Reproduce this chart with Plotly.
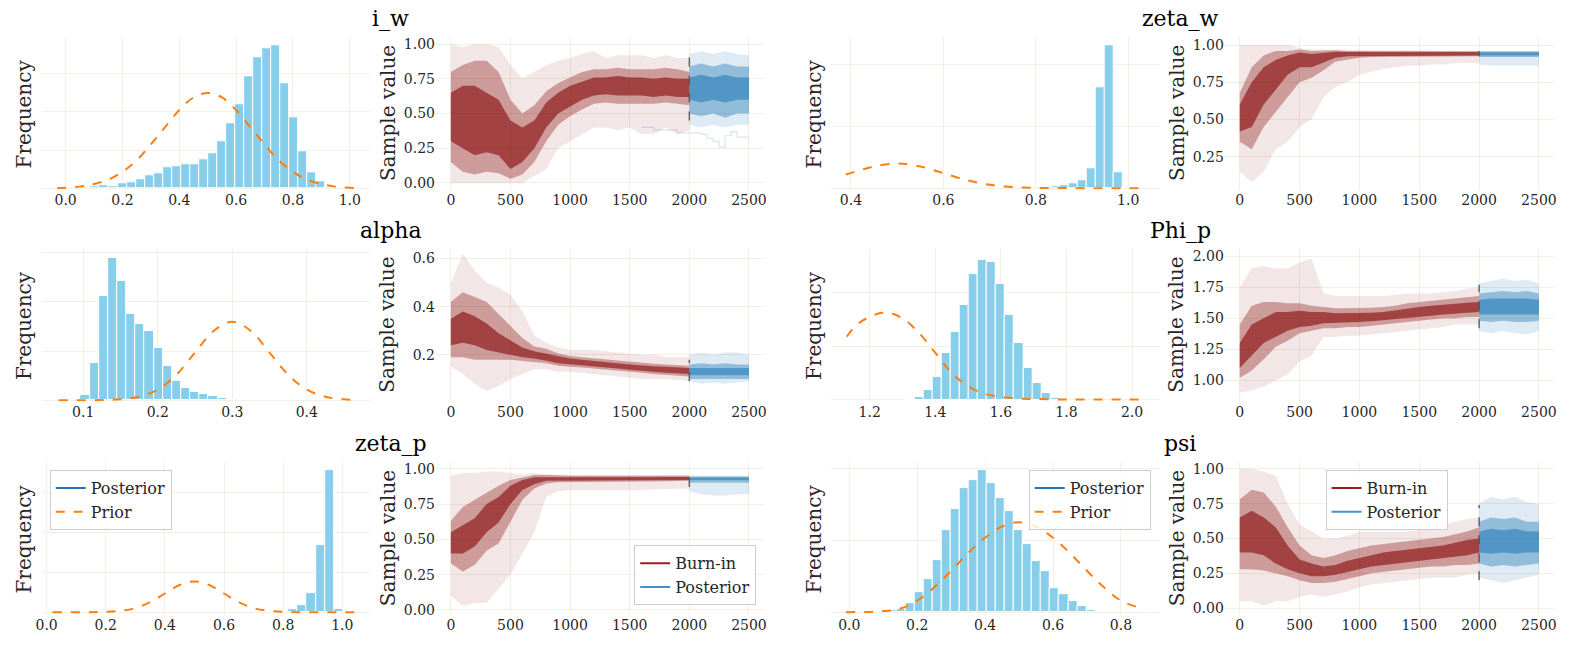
import plotly.graph_objects as go

W, H = 1572, 645
FONT = "DejaVu Serif"
GRID = "#f2efe3"
TXT = "#262626"

# ---------------- histogram data (posterior, density) ----------------
iw_bin_start, iw_bin_width = 0.056, 0.0318
iw_hist = [0.03, 0.06, 0.08, 0.06, 0.12, 0.16, 0.24, 0.35, 0.39, 0.55, 0.57, 0.63, 0.63, 0.76,
           0.92, 1.22, 1.70, 2.21, 2.94, 3.43, 3.68, 3.74, 2.76, 1.85, 0.97, 0.42, 0.17]
iw_prior_x = [-0.03, 0.05, 0.1, 0.15, 0.2, 0.25, 0.3, 0.35, 0.4, 0.45, 0.5, 0.55, 0.6, 0.65,
              0.7, 0.75, 0.8, 0.85, 0.9, 0.95, 1.02]
iw_prior_y = [0.0, 0.04, 0.11, 0.22, 0.43, 0.73, 1.15, 1.6, 2.05, 2.38, 2.5, 2.38, 2.05, 1.6,
              1.15, 0.73, 0.43, 0.22, 0.11, 0.04, 0.0]

zw_bin_start, zw_bin_width = 0.795, 0.0193
zw_hist = [0.1, 0.1, 0.27, 0.43, 0.86, 1.24, 3.2, 16.3, 23.1, 2.6]
zw_prior_x = [0.389, 0.42, 0.45, 0.5, 0.55, 0.6, 0.65, 0.7, 0.75, 0.8, 0.85, 0.9, 0.95, 1.036]
zw_prior_y = [2.2, 2.9, 3.5, 3.99, 3.5, 2.42, 1.3, 0.54, 0.18, 0.04, 0.01, 0.0, 0.0, 0.0]

al_bin_start, al_bin_width = 0.0964, 0.01227
al_hist = [0.57, 3.8, 10.6, 14.5, 12.1, 8.75, 7.8, 7.05, 5.3, 3.45, 1.95, 1.25, 0.85, 0.6,
           0.4, 0.23, 0.1]
al_prior_x = [0.067, 0.1, 0.125, 0.15, 0.175, 0.2, 0.225, 0.25, 0.275, 0.3, 0.325, 0.35, 0.375,
              0.4, 0.425, 0.45, 0.469]
al_prior_y = [0.0, 0.0, 0.02, 0.09, 0.35, 1.08, 2.59, 4.84, 7.04, 7.98, 7.04, 4.84, 2.59,
              1.08, 0.35, 0.09, 0.02]

ph_bin_start, ph_bin_width = 1.308, 0.0277
ph_hist = [0.02, 0.11, 0.35, 0.84, 1.74, 2.53, 3.55, 4.70, 5.25, 5.17, 4.35, 3.17, 2.14, 1.20,
           0.62, 0.26, 0.07]
ph_prior_x = [1.13, 1.16, 1.2, 1.25, 1.3, 1.35, 1.4, 1.45, 1.5, 1.55, 1.6, 1.65, 1.7, 1.8, 2.04]
ph_prior_y = [2.36, 2.8, 3.1, 3.27, 3.05, 2.5, 1.75, 1.0, 0.5, 0.22, 0.1, 0.04, 0.02, 0.0, 0.0]

zp_bin_start, zp_bin_width = 0.7545, 0.0311
zp_hist = [0.08, 0.125, 0.375, 0.92, 2.42, 8.42, 17.83, 0.33]
zp_prior_x = [0.02, 0.15, 0.2, 0.25, 0.3, 0.35, 0.4, 0.45, 0.5, 0.55, 0.6, 0.65, 0.7, 0.75,
              0.8, 0.85, 1.05]
zp_prior_y = [0.0, 0.0, 0.04, 0.17, 0.52, 1.26, 2.35, 3.42, 3.875, 3.42, 2.35, 1.26, 0.52,
              0.17, 0.04, 0.0, 0.0]

ps_bin_start, ps_bin_width = 0.1122, 0.02663
ps_hist = [0.05, 0.09, 0.25, 0.56, 0.92, 1.45, 2.28, 2.87, 3.44, 3.68, 3.96, 3.58, 3.18, 2.81,
           2.28, 1.89, 1.41, 1.14, 0.67, 0.49, 0.30, 0.16, 0.06, 0.03]
ps_prior_x = [-0.01, 0.1, 0.15, 0.2, 0.25, 0.3, 0.35, 0.4, 0.45, 0.5, 0.55, 0.6, 0.65, 0.7,
              0.75, 0.8, 0.87]
ps_prior_y = [0.0, 0.03, 0.1, 0.32, 0.69, 1.15, 1.64, 2.07, 2.38, 2.5, 2.38, 2.07, 1.64, 1.15,
              0.69, 0.32, 0.08]

# ---------------- trace-plot envelopes (outer / middle / dense) ----------------
burn_iters = [0, 100, 200, 300, 400, 500, 600, 700, 800, 900, 1000, 1100, 1200, 1300, 1400,
              1500, 1600, 1700, 1800, 1900, 2000]
post_iters = [2000, 2100, 2200, 2300, 2400, 2500]

iw_out_lo = [0.00, 0.00, 0.00, 0.00, 0.00, 0.00, 0.00, 0.05, 0.10, 0.25, 0.30, 0.35, 0.40, 0.40, 0.38, 0.40, 0.35, 0.35, 0.40, 0.35, 0.38]
iw_out_hi = [1.00, 0.98, 1.00, 1.00, 0.98, 0.85, 0.75, 0.80, 0.85, 0.88, 0.90, 0.93, 0.95, 0.90, 0.92, 0.92, 0.92, 0.90, 0.92, 0.90, 0.90]
iw_mid_lo = [0.15, 0.08, 0.06, 0.08, 0.07, 0.03, 0.06, 0.15, 0.30, 0.42, 0.48, 0.53, 0.57, 0.58, 0.57, 0.57, 0.57, 0.57, 0.58, 0.57, 0.56]
iw_mid_hi = [0.80, 0.85, 0.88, 0.88, 0.80, 0.60, 0.50, 0.56, 0.66, 0.72, 0.76, 0.80, 0.82, 0.82, 0.83, 0.82, 0.82, 0.82, 0.83, 0.82, 0.80]
iw_core_lo = [0.30, 0.25, 0.20, 0.22, 0.20, 0.10, 0.15, 0.25, 0.40, 0.50, 0.55, 0.60, 0.63, 0.64, 0.63, 0.63, 0.63, 0.62, 0.63, 0.62, 0.62]
iw_core_hi = [0.65, 0.70, 0.70, 0.65, 0.60, 0.45, 0.40, 0.45, 0.58, 0.65, 0.70, 0.73, 0.76, 0.76, 0.77, 0.76, 0.76, 0.75, 0.76, 0.75, 0.75]
iw_post_out_lo = [0.42, 0.40, 0.42, 0.40, 0.42, 0.42]
iw_post_out_hi = [0.93, 0.95, 0.93, 0.95, 0.93, 0.92]
iw_post_mid_lo = [0.50, 0.48, 0.50, 0.47, 0.50, 0.50]
iw_post_mid_hi = [0.84, 0.86, 0.84, 0.86, 0.84, 0.84]
iw_post_core_lo = [0.60, 0.58, 0.60, 0.58, 0.60, 0.60]
iw_post_core_hi = [0.76, 0.78, 0.76, 0.78, 0.76, 0.76]

zw_out_lo = [0.15, 0.08, 0.15, 0.30, 0.35, 0.45, 0.50, 0.65, 0.72, 0.75, 0.80, 0.82, 0.84, 0.85, 0.86, 0.86, 0.87, 0.87, 0.88, 0.88, 0.88]
zw_out_hi = [1.00, 1.00, 1.00, 1.00, 1.00, 0.98, 0.97, 0.97, 0.97, 0.97, 0.97, 0.97, 0.965, 0.965, 0.965, 0.965, 0.965, 0.96, 0.96, 0.96, 0.96]
zw_mid_lo = [0.35, 0.30, 0.45, 0.55, 0.65, 0.75, 0.78, 0.83, 0.89, 0.905, 0.915, 0.92, 0.92, 0.92, 0.92, 0.92, 0.92, 0.923, 0.925, 0.925, 0.925]
zw_mid_hi = [0.68, 0.85, 0.93, 0.96, 0.96, 0.97, 0.96, 0.965, 0.965, 0.96, 0.96, 0.958, 0.958, 0.958, 0.958, 0.958, 0.958, 0.958, 0.958, 0.958, 0.958]
zw_core_lo = [0.42, 0.45, 0.60, 0.70, 0.80, 0.85, 0.85, 0.88, 0.915, 0.925, 0.927, 0.928, 0.928, 0.928, 0.929, 0.929, 0.929, 0.93, 0.93, 0.93, 0.93]
zw_core_hi = [0.60, 0.75, 0.85, 0.90, 0.93, 0.95, 0.94, 0.95, 0.955, 0.953, 0.953, 0.953, 0.953, 0.953, 0.953, 0.953, 0.953, 0.953, 0.953, 0.953, 0.953]
zw_post_out_lo = [0.87, 0.86, 0.86, 0.86, 0.86, 0.86]
zw_post_out_hi = [0.96, 0.96, 0.96, 0.96, 0.96, 0.96]
zw_post_mid_lo = [0.92, 0.92, 0.92, 0.92, 0.92, 0.92]
zw_post_mid_hi = [0.957, 0.957, 0.957, 0.957, 0.957, 0.957]
zw_post_core_lo = [0.93, 0.93, 0.93, 0.93, 0.93, 0.93]
zw_post_core_hi = [0.952, 0.952, 0.952, 0.952, 0.952, 0.952]

al_out_lo = [0.15, 0.12, 0.08, 0.05, 0.07, 0.10, 0.12, 0.14, 0.14, 0.13, 0.13, 0.125, 0.12, 0.115, 0.11, 0.105, 0.10, 0.10, 0.10, 0.095, 0.09]
al_out_hi = [0.50, 0.62, 0.55, 0.50, 0.48, 0.45, 0.38, 0.28, 0.25, 0.23, 0.22, 0.22, 0.22, 0.215, 0.21, 0.205, 0.20, 0.20, 0.19, 0.19, 0.19]
al_mid_lo = [0.19, 0.19, 0.18, 0.18, 0.18, 0.18, 0.175, 0.17, 0.165, 0.155, 0.15, 0.147, 0.145, 0.14, 0.135, 0.13, 0.125, 0.12, 0.115, 0.113, 0.11]
al_mid_hi = [0.42, 0.46, 0.44, 0.42, 0.37, 0.32, 0.27, 0.235, 0.225, 0.205, 0.195, 0.19, 0.185, 0.18, 0.175, 0.17, 0.165, 0.163, 0.16, 0.157, 0.155]
al_core_lo = [0.24, 0.25, 0.24, 0.22, 0.21, 0.20, 0.19, 0.185, 0.175, 0.165, 0.16, 0.155, 0.152, 0.148, 0.143, 0.138, 0.133, 0.13, 0.125, 0.122, 0.12]
al_core_hi = [0.35, 0.38, 0.36, 0.33, 0.29, 0.26, 0.23, 0.215, 0.205, 0.195, 0.185, 0.18, 0.176, 0.17, 0.165, 0.16, 0.155, 0.152, 0.15, 0.147, 0.145]
al_post_out_lo = [0.09, 0.08, 0.085, 0.08, 0.085, 0.09]
al_post_out_hi = [0.20, 0.21, 0.20, 0.21, 0.21, 0.20]
al_post_mid_lo = [0.10, 0.10, 0.10, 0.10, 0.10, 0.10]
al_post_mid_hi = [0.16, 0.165, 0.16, 0.165, 0.16, 0.16]
al_post_core_lo = [0.115, 0.115, 0.115, 0.115, 0.115, 0.115]
al_post_core_hi = [0.145, 0.145, 0.145, 0.145, 0.145, 0.145]

ph_out_lo = [0.90, 0.92, 0.95, 1.00, 1.05, 1.15, 1.20, 1.35, 1.35, 1.36, 1.36, 1.37, 1.38, 1.39, 1.40, 1.41, 1.42, 1.43, 1.45, 1.45, 1.45]
ph_out_hi = [1.75, 1.90, 1.92, 1.90, 1.90, 1.95, 1.98, 1.70, 1.68, 1.68, 1.68, 1.68, 1.68, 1.69, 1.70, 1.70, 1.70, 1.71, 1.72, 1.74, 1.75]
ph_mid_lo = [1.02, 1.08, 1.17, 1.27, 1.32, 1.38, 1.40, 1.42, 1.42, 1.43, 1.43, 1.44, 1.45, 1.46, 1.47, 1.48, 1.49, 1.50, 1.50, 1.51, 1.51]
ph_mid_hi = [1.45, 1.60, 1.63, 1.63, 1.62, 1.62, 1.60, 1.59, 1.58, 1.58, 1.58, 1.585, 1.59, 1.60, 1.62, 1.63, 1.64, 1.65, 1.66, 1.67, 1.68]
ph_core_lo = [1.10, 1.20, 1.30, 1.35, 1.40, 1.43, 1.44, 1.46, 1.46, 1.465, 1.47, 1.475, 1.48, 1.49, 1.50, 1.51, 1.52, 1.53, 1.54, 1.545, 1.55]
ph_core_hi = [1.30, 1.45, 1.50, 1.55, 1.55, 1.56, 1.55, 1.55, 1.54, 1.54, 1.54, 1.545, 1.55, 1.565, 1.58, 1.59, 1.60, 1.61, 1.62, 1.625, 1.63]
ph_post_out_lo = [1.40, 1.38, 1.40, 1.38, 1.37, 1.40]
ph_post_out_hi = [1.78, 1.80, 1.82, 1.80, 1.81, 1.78]
ph_post_mid_lo = [1.48, 1.47, 1.48, 1.47, 1.47, 1.48]
ph_post_mid_hi = [1.70, 1.71, 1.72, 1.71, 1.72, 1.70]
ph_post_core_lo = [1.53, 1.53, 1.53, 1.53, 1.53, 1.53]
ph_post_core_hi = [1.65, 1.66, 1.66, 1.66, 1.66, 1.65]

zp_out_lo = [0.10, 0.03, 0.05, 0.05, 0.15, 0.25, 0.40, 0.55, 0.80, 0.84, 0.85, 0.85, 0.85, 0.85, 0.85, 0.85, 0.85, 0.855, 0.86, 0.86, 0.86]
zp_out_hi = [0.95, 0.97, 0.97, 0.98, 0.98, 0.97, 0.96, 0.97, 0.96, 0.96, 0.955, 0.955, 0.955, 0.955, 0.955, 0.955, 0.955, 0.955, 0.955, 0.955, 0.955]
zp_mid_lo = [0.33, 0.27, 0.32, 0.42, 0.47, 0.62, 0.78, 0.86, 0.895, 0.905, 0.91, 0.91, 0.91, 0.91, 0.91, 0.91, 0.91, 0.91, 0.91, 0.912, 0.915]
zp_mid_hi = [0.63, 0.73, 0.78, 0.83, 0.88, 0.92, 0.94, 0.955, 0.955, 0.95, 0.95, 0.95, 0.95, 0.95, 0.95, 0.95, 0.95, 0.95, 0.95, 0.95, 0.95]
zp_core_lo = [0.40, 0.40, 0.45, 0.55, 0.62, 0.75, 0.85, 0.89, 0.915, 0.918, 0.92, 0.92, 0.92, 0.92, 0.92, 0.92, 0.92, 0.92, 0.92, 0.92, 0.92]
zp_core_hi = [0.55, 0.60, 0.65, 0.75, 0.80, 0.88, 0.92, 0.94, 0.94, 0.94, 0.94, 0.94, 0.94, 0.94, 0.94, 0.94, 0.94, 0.94, 0.94, 0.942, 0.942]
zp_post_out_lo = [0.84, 0.82, 0.81, 0.81, 0.82, 0.82]
zp_post_out_hi = [0.95, 0.95, 0.95, 0.95, 0.95, 0.95]
zp_post_mid_lo = [0.90, 0.90, 0.90, 0.90, 0.90, 0.90]
zp_post_mid_hi = [0.945, 0.945, 0.945, 0.945, 0.945, 0.945]
zp_post_core_lo = [0.918, 0.918, 0.918, 0.918, 0.918, 0.918]
zp_post_core_hi = [0.938, 0.938, 0.938, 0.938, 0.938, 0.938]

ps_out_lo = [0.05, 0.05, 0.02, 0.05, 0.05, 0.08, 0.10, 0.08, 0.10, 0.12, 0.15, 0.17, 0.18, 0.19, 0.20, 0.21, 0.22, 0.22, 0.22, 0.24, 0.25]
ps_out_hi = [1.00, 1.00, 0.98, 0.95, 0.75, 0.60, 0.55, 0.50, 0.50, 0.52, 0.55, 0.55, 0.55, 0.55, 0.55, 0.56, 0.58, 0.60, 0.62, 0.64, 0.65]
ps_mid_lo = [0.28, 0.28, 0.27, 0.25, 0.23, 0.20, 0.18, 0.18, 0.19, 0.21, 0.23, 0.25, 0.26, 0.27, 0.28, 0.29, 0.30, 0.30, 0.31, 0.31, 0.32]
ps_mid_hi = [0.78, 0.85, 0.83, 0.73, 0.58, 0.45, 0.38, 0.36, 0.38, 0.41, 0.43, 0.45, 0.46, 0.47, 0.48, 0.49, 0.50, 0.51, 0.53, 0.55, 0.58]
ps_core_lo = [0.40, 0.40, 0.38, 0.32, 0.28, 0.25, 0.23, 0.23, 0.24, 0.26, 0.28, 0.30, 0.31, 0.32, 0.33, 0.34, 0.35, 0.36, 0.37, 0.38, 0.40]
ps_core_hi = [0.65, 0.70, 0.65, 0.58, 0.45, 0.35, 0.32, 0.30, 0.31, 0.34, 0.36, 0.38, 0.40, 0.41, 0.42, 0.43, 0.44, 0.45, 0.47, 0.49, 0.50]
ps_post_out_lo = [0.22, 0.20, 0.18, 0.20, 0.22, 0.24]
ps_post_out_hi = [0.75, 0.80, 0.78, 0.80, 0.76, 0.75]
ps_post_mid_lo = [0.32, 0.30, 0.31, 0.30, 0.31, 0.32]
ps_post_mid_hi = [0.62, 0.65, 0.64, 0.65, 0.62, 0.62]
ps_post_core_lo = [0.40, 0.39, 0.40, 0.39, 0.40, 0.40]
ps_post_core_hi = [0.55, 0.57, 0.56, 0.57, 0.55, 0.55]

# separator (burn-in end) segment at iteration 2000: [low, high]
iw_sep = [0.45, 0.93]
zw_sep = [0.925, 0.96]
al_sep = [0.09, 0.18]
ph_sep = [1.42, 1.77]
zp_sep = [0.87, 0.95]
ps_sep = [0.20, 0.74]
sep_iter = 2000

# a slow outlier chain visible in the i_w posterior
iw_outlier_x = [1600, 1700, 1800, 1900, 2000, 2100, 2150, 2200, 2250, 2300, 2350, 2400, 2500]
iw_outlier_y = [0.40, 0.38, 0.38, 0.36, 0.36, 0.35, 0.32, 0.30, 0.26, 0.34, 0.37, 0.33, 0.33]

names = ["i_w", "zeta_w", "alpha", "Phi_p", "zeta_p", "psi"]

# ---------------- layout geometry (pixels) ----------------
col_px = [(35.4, 365.7), (431.7, 761.7), (829.0, 1160.0), (1225.6, 1556.8)]
row_px = [(36.5, 190.0), (249.5, 403.0), (464.0, 618.0)]


def xdom(c):
    return [col_px[c][0] / W, col_px[c][1] / W]


def ydom(r):
    return [1 - row_px[r][1] / H, 1 - row_px[r][0] / H]


fig = go.Figure()
layout = {}


def axid(k):
    return ("x" if k == 0 else f"x{k+1}", "y" if k == 0 else f"y{k+1}",
            "xaxis" if k == 0 else f"xaxis{k+1}", "yaxis" if k == 0 else f"yaxis{k+1}")


tickfont = dict(family=FONT, size=14, color=TXT)

hist_specs = [
    (iw_bin_start, iw_bin_width, iw_hist, iw_prior_x, iw_prior_y, [-0.0825, 1.0725],
     [0.0, 0.2, 0.4, 0.6, 0.8, 1.0], [-0.044, 3.96], 1),
    (zw_bin_start, zw_bin_width, zw_hist, zw_prior_x, zw_prior_y, [0.3563, 1.068],
     [0.4, 0.6, 0.8, 1.0], [-0.27, 24.37], 10),
    (al_bin_start, al_bin_width, al_hist, al_prior_x, al_prior_y, [0.0449, 0.4853],
     [0.1, 0.2, 0.3, 0.4], [-0.13, 15.37], 5),
    (ph_bin_start, ph_bin_width, ph_hist, ph_prior_x, ph_prior_y, [1.081, 2.084],
     [1.2, 1.4, 1.6, 1.8, 2.0], [-0.075, 5.65], 2),
    (zp_bin_start, zp_bin_width, zp_hist, zp_prior_x, zp_prior_y, [-0.015, 1.095],
     [0.0, 0.2, 0.4, 0.6, 0.8, 1.0], [-0.375, 18.875], 5),
    (ps_bin_start, ps_bin_width, ps_hist, ps_prior_x, ps_prior_y, [-0.0547, 0.914],
     [0.0, 0.2, 0.4, 0.6, 0.8], [-0.083, 4.17], 2),
]

trace_specs = [
    ((iw_out_lo, iw_out_hi, iw_mid_lo, iw_mid_hi, iw_core_lo, iw_core_hi),
     (iw_post_out_lo, iw_post_out_hi, iw_post_mid_lo, iw_post_mid_hi, iw_post_core_lo, iw_post_core_hi),
     iw_sep, [-0.05, 1.05], [0, 0.25, 0.5, 0.75, 1.0], ".2f"),
    ((zw_out_lo, zw_out_hi, zw_mid_lo, zw_mid_hi, zw_core_lo, zw_core_hi),
     (zw_post_out_lo, zw_post_out_hi, zw_post_mid_lo, zw_post_mid_hi, zw_post_core_lo, zw_post_core_hi),
     zw_sep, [0.028, 1.052], [0.25, 0.5, 0.75, 1.0], ".2f"),
    ((al_out_lo, al_out_hi, al_mid_lo, al_mid_hi, al_core_lo, al_core_hi),
     (al_post_out_lo, al_post_out_hi, al_post_mid_lo, al_post_mid_hi, al_post_core_lo, al_post_core_hi),
     al_sep, [0.006, 0.64], [0.2, 0.4, 0.6], ".1f"),
    ((ph_out_lo, ph_out_hi, ph_mid_lo, ph_mid_hi, ph_core_lo, ph_core_hi),
     (ph_post_out_lo, ph_post_out_hi, ph_post_mid_lo, ph_post_mid_hi, ph_post_core_lo, ph_post_core_hi),
     ph_sep, [0.83, 2.058], [1.0, 1.25, 1.5, 1.75, 2.0], ".2f"),
    ((zp_out_lo, zp_out_hi, zp_mid_lo, zp_mid_hi, zp_core_lo, zp_core_hi),
     (zp_post_out_lo, zp_post_out_hi, zp_post_mid_lo, zp_post_mid_hi, zp_post_core_lo, zp_post_core_hi),
     zp_sep, [-0.037, 1.047], [0, 0.25, 0.5, 0.75, 1.0], ".2f"),
    ((ps_out_lo, ps_out_hi, ps_mid_lo, ps_mid_hi, ps_core_lo, ps_core_hi),
     (ps_post_out_lo, ps_post_out_hi, ps_post_mid_lo, ps_post_mid_hi, ps_post_core_lo, ps_post_core_hi),
     ps_sep, [-0.05, 1.048], [0, 0.25, 0.5, 0.75, 1.0], ".2f"),
]

BURN_FILLS = ["rgba(135,12,12,0.10)", "rgba(135,12,12,0.34)", "rgba(135,12,12,0.62)"]
POST_FILLS = ["rgba(31,119,180,0.15)", "rgba(31,119,180,0.40)", "rgba(31,119,180,0.55)"]


def band(xs, lo, hi, color, xa, ya):
    fig.add_trace(go.Scatter(x=list(xs) + list(xs)[::-1], y=list(hi) + list(lo)[::-1],
                             fill="toself", fillcolor=color, mode="lines",
                             line=dict(width=0), hoverinfo="skip", showlegend=False,
                             xaxis=xa, yaxis=ya))


annotations = []
for p in range(6):
    r, half = p // 2, p % 2
    hk = r * 4 + half * 2
    tk = hk + 1
    # ---------- histogram ----------
    bs, bw, hh, px_, py_, xr, xt, yr, ydt = hist_specs[p]
    xa, ya, xk, yk = axid(hk)
    centers = [bs + bw * (i + 0.5) for i in range(len(hh))]
    fig.add_trace(go.Bar(x=centers, y=hh, width=[bw] * len(hh),
                         marker=dict(color="#87CEEB", line=dict(color="white", width=1)),
                         showlegend=False, xaxis=xa, yaxis=ya))
    fig.add_trace(go.Scatter(x=px_, y=py_, mode="lines",
                             line=dict(color="#ff7f0e", width=2, dash="dash", shape="spline"),
                             showlegend=False, xaxis=xa, yaxis=ya))
    layout[xk] = dict(domain=xdom(half * 2), anchor=ya, range=xr, tickvals=xt, tickformat=".1f",
                      showgrid=True, gridcolor=GRID, gridwidth=1, zeroline=False, showline=False,
                      ticks="", tickfont=tickfont)
    layout[yk] = dict(domain=ydom(r), anchor=xa, range=yr, dtick=ydt, tick0=0,
                      showticklabels=False, showgrid=True, gridcolor=GRID, gridwidth=1,
                      zeroline=False, showline=False, ticks="")
    # ---------- trace plot ----------
    burn, post, sep, yrng, ytv, yfmt = trace_specs[p]
    xa, ya, xk, yk = axid(tk)
    for i in range(3):
        band(burn_iters, burn[2 * i], burn[2 * i + 1], BURN_FILLS[i], xa, ya)
        band(post_iters, post[2 * i], post[2 * i + 1], POST_FILLS[i], xa, ya)
    if p == 0:
        fig.add_trace(go.Scatter(x=iw_outlier_x, y=iw_outlier_y, mode="lines",
                                 line=dict(color="rgba(31,119,180,0.18)", width=1.2, shape="hv"),
                                 showlegend=False, xaxis=xa, yaxis=ya))
    fig.add_trace(go.Scatter(x=[sep_iter, sep_iter], y=sep, mode="lines",
                             line=dict(color="rgba(80,80,80,0.85)", width=1.5, dash="dash"),
                             showlegend=False, xaxis=xa, yaxis=ya))
    layout[xk] = dict(domain=xdom(half * 2 + 1), anchor=ya, range=[-125, 2625],
                      tickvals=[0, 500, 1000, 1500, 2000, 2500],
                      showgrid=True, gridcolor=GRID, gridwidth=1, zeroline=False, showline=False,
                      ticks="", tickfont=tickfont)
    layout[yk] = dict(domain=ydom(r), anchor=xa, range=yrng, tickvals=ytv, tickformat=yfmt,
                      showgrid=True, gridcolor=GRID, gridwidth=1, zeroline=False, showline=False,
                      ticks="", tickfont=tickfont)
    # ---------- texts ----------
    ycen = 1 - (row_px[r][0] + row_px[r][1]) / 2 / H
    annotations.append(dict(text=names[p], x=(386 if half == 0 else 1181) / W,
                            y=1 - (row_px[r][0] - 18.5) / H, xref="paper", yref="paper",
                            showarrow=False, xanchor="center", yanchor="middle",
                            font=dict(family=FONT, size=22, color="black")))
    annotations.append(dict(text="Frequency", x=(17 if half == 0 else 812) / W, y=ycen,
                            xref="paper", yref="paper", showarrow=False, textangle=-90,
                            xanchor="center", yanchor="middle",
                            font=dict(family=FONT, size=20, color=TXT)))
    annotations.append(dict(text="Sample value", x=(383 if half == 0 else 1177) / W, y=ycen,
                            xref="paper", yref="paper", showarrow=False, textangle=-90,
                            xanchor="center", yanchor="middle",
                            font=dict(family=FONT, size=20, color=TXT)))


# ---------------- legends ----------------
def legend_entry(name, color, dash, legend, k):
    xa, ya, _, _ = axid(k)
    fig.add_trace(go.Scatter(x=[None], y=[None], mode="lines", name=name,
                             line=dict(color=color, width=2, dash=dash),
                             legend=legend, showlegend=True, xaxis=xa, yaxis=ya))


legend_entry("Posterior", "#1f77b4", "solid", "legend", 8)
legend_entry("Prior", "#ff7f0e", "dash", "legend", 8)
legend_entry("Posterior", "#1f77b4", "solid", "legend2", 10)
legend_entry("Prior", "#ff7f0e", "dash", "legend2", 10)
legend_entry("Burn-in", "#a01c1c", "solid", "legend3", 9)
legend_entry("Posterior", "#4a90c8", "solid", "legend3", 9)
legend_entry("Burn-in", "#a01c1c", "solid", "legend4", 11)
legend_entry("Posterior", "#4a90c8", "solid", "legend4", 11)

leg_style = dict(bgcolor="rgba(255,255,255,0.85)", bordercolor="#cccccc", borderwidth=1,
                 font=dict(family=FONT, size=16, color=TXT), tracegroupgap=0)
layout["legend"] = dict(x=43 / W, y=1 - 472 / H, xanchor="left", yanchor="top", **leg_style)
layout["legend2"] = dict(x=1151 / W, y=1 - 472 / H, xanchor="right", yanchor="top", **leg_style)
layout["legend3"] = dict(x=754 / W, y=1 - 608 / H, xanchor="right", yanchor="bottom", **leg_style)
layout["legend4"] = dict(x=1327 / W, y=1 - 472 / H, xanchor="left", yanchor="top", **leg_style)

fig.update_layout(width=W, height=H, margin=dict(l=0, r=0, t=0, b=0),
                  paper_bgcolor="white", plot_bgcolor="white",
                  font=dict(family=FONT, color=TXT), annotations=annotations,
                  bargap=0, **layout)

fig.write_html("out.html")
